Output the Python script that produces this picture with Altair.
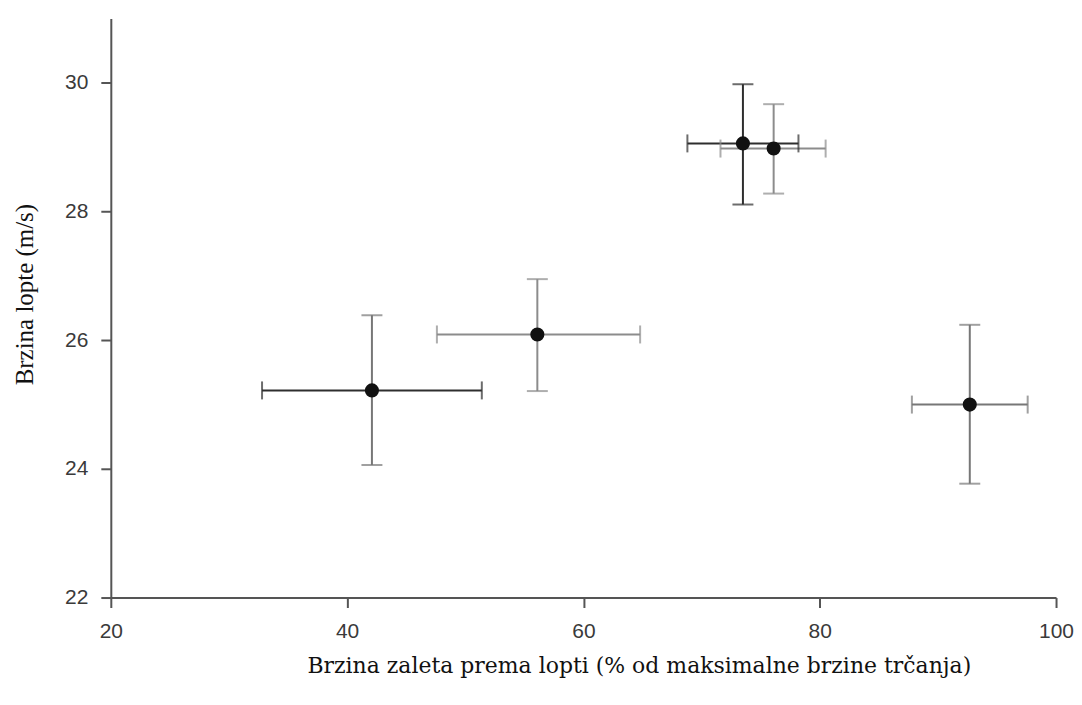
import altair as alt
import pandas as pd

# data
run_speed = [42.1, 56.1, 73.5, 76.1, 92.7]          # % of max running speed
run_lo = [32.8, 47.6, 68.8, 71.6, 87.8]
run_hi = [51.4, 64.8, 78.2, 80.5, 97.6]
ball_speed = [25.22, 26.09, 29.06, 28.98, 25.00]    # m/s
ball_lo = [24.06, 25.21, 28.11, 28.28, 23.77]
ball_hi = [26.39, 26.95, 29.98, 29.67, 26.24]
x_tone = ["dark", "light", "dark", "light", "mid"]
y_tone = ["mid", "light", "dark", "light", "mid"]
x_ticks = [20, 40, 60, 80, 100]
y_ticks = [22, 24, 26, 28, 30]

df = pd.DataFrame({
    "x": run_speed, "x_lo": run_lo, "x_hi": run_hi,
    "y": ball_speed, "y_lo": ball_lo, "y_hi": ball_hi,
    "xt": x_tone, "yt": y_tone,
})

tone_scale = alt.Scale(domain=["dark", "mid", "light"],
                       range=["#2e2e2e", "#777777", "#8c8c8c"])

xs = alt.Scale(domain=[20, 100], nice=False, zero=False)
ys = alt.Scale(domain=[22, 31], nice=False, zero=False)

xaxis = alt.Axis(values=x_ticks, format="d",
                 title="Brzina zaleta prema lopti (% od maksimalne brzine trčanja)",
                 titleFont="DejaVu Serif", titleFontSize=22, titleFontWeight="normal", titleColor="#111111",
                 titleX=529, titleY=75, titleBaseline="alphabetic", titleAlign="center")
yaxis = alt.Axis(values=y_ticks, format="d", title="Brzina lopte (m/s)",
                 titleFont="Liberation Serif", titleFontSize=25, titleFontWeight="normal", titleColor="#111111",
                 titleAngle=270, titleX=-78, titleY=276, titleBaseline="alphabetic", titleAlign="center")

base = alt.Chart(df)

hbar = base.mark_rule(strokeWidth=2).encode(
    x=alt.X("x_lo:Q", scale=xs, axis=xaxis), x2="x_hi:Q",
    y=alt.Y("y:Q", scale=ys, axis=yaxis),
    color=alt.Color("xt:N", scale=tone_scale, legend=None),
)
vbar = base.mark_rule(strokeWidth=2).encode(
    x=alt.X("x:Q", scale=xs), y=alt.Y("y_lo:Q", scale=ys), y2="y_hi:Q",
    color=alt.Color("yt:N", scale=tone_scale, legend=None),
)
hcap = base.transform_fold(["x_lo", "x_hi"], as_=["k", "xc"]).mark_tick(
    orient="vertical", size=18, thickness=2).encode(
    x=alt.X("xc:Q", scale=xs), y=alt.Y("y:Q", scale=ys),
    color=alt.Color("xt:N", scale=tone_scale, legend=None),
)
vcap = base.transform_fold(["y_lo", "y_hi"], as_=["k", "yc"]).mark_tick(
    orient="horizontal", size=21, thickness=2).encode(
    x=alt.X("x:Q", scale=xs), y=alt.Y("yc:Q", scale=ys),
    color=alt.Color("yt:N", scale=tone_scale, legend=None),
)
pts = base.mark_circle(size=200, opacity=1, color="#111111").encode(
    x=alt.X("x:Q", scale=xs), y=alt.Y("y:Q", scale=ys),
)

chart = alt.layer(hbar, vbar, hcap, vcap, pts).properties(
    width=947, height=580,
    autosize=alt.AutoSizeParams(type="none"),
    padding={"left": 103, "top": 10, "right": 18, "bottom": 95},
).configure_view(stroke=None).configure_axis(
    grid=False, domainColor="#555555", domainWidth=2, tickColor="#555555", tickWidth=2,
    tickSize=10, labelColor="#3a3a3a", labelFont="Liberation Sans", labelFontSize=21,
    labelPadding=13, labelFlush=False,
)

chart.save("out.html", embed_options={"renderer": "svg", "actions": False})
